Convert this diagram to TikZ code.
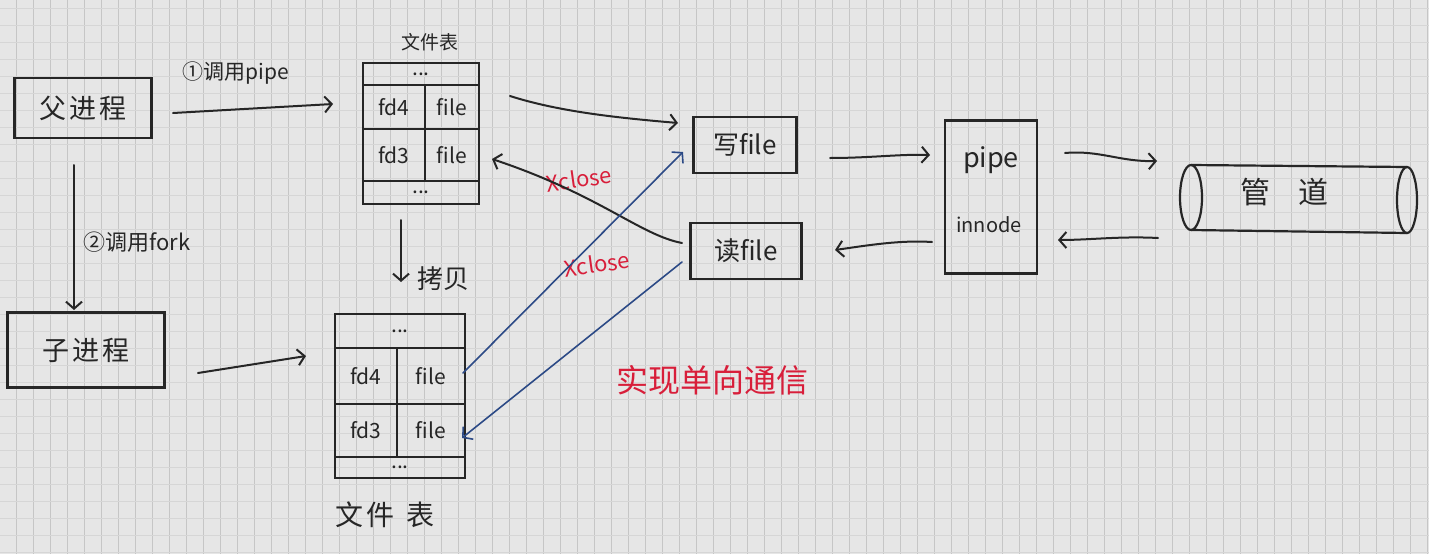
\documentclass[tikz,border=0pt]{standalone}
\usepackage{fontspec}
\newfontfamily\cjk{Noto Sans CJK SC}
\usetikzlibrary{arrows.meta}
\definecolor{bg}{HTML}{E6E6E6}
\definecolor{gridv}{HTML}{C6C6C6}
\definecolor{gridh}{HTML}{D6D6D6}
\definecolor{ink}{HTML}{262626}
\definecolor{blueink}{HTML}{2C4A86}
\definecolor{redink}{HTML}{D81E3A}
\begin{document}
\begin{tikzpicture}[x=1pt,y=-1pt,
  font=\cjk, text=ink,
  procbox/.style={draw=ink, line width=2.2pt, inner sep=0pt},
  cell/.style={draw=ink, line width=2pt, inner sep=0pt, anchor=north west, font=\cjk\fontsize{21}{21}\selectfont},
  arr/.style={draw=ink, line width=2pt, line cap=round, -{Straight Barb[length=7pt,width=16pt,line width=2pt]}},
  barr/.style={draw=blueink, line width=1.6pt, line cap=round, -{Straight Barb[length=7pt,width=16pt,line width=1.6pt]}},
  lbl/.style={font=\cjk\fontsize{21}{21}\selectfont, inner sep=0pt},
  redlbl/.style={text=redink, font=\cjk\fontsize{22}{22}\selectfont, inner sep=0pt}
]
% background and grid
\fill[bg] (0,0) rectangle (1429,554);
\useasboundingbox (0,0) rectangle (1429,554);
\foreach \i in {0,...,84} \draw[gridv, line width=1pt] ({16+17*\i},0) -- ({16+17*\i},554);
\foreach \j in {0,...,32} \draw[gridh, line width=1.2pt] (0,{8.7+17*\j}) -- (1429,{8.7+17*\j});

% processes
\node[procbox, minimum width=137pt, minimum height=60pt, font=\cjk\fontsize{27}{27}\selectfont] (parent) at (83,108) {父\hspace{3pt}进\hspace{3pt}程};
\node[procbox, minimum width=157pt, minimum height=75pt, font=\cjk\fontsize{27}{27}\selectfont] (child) at (86,350) {子\hspace{3pt}进\hspace{3pt}程};

% top file table
\node[cell, minimum width=116pt, minimum height=22pt] (t1a) at (362,62) {...};
\node[cell, minimum width=62pt, minimum height=44pt] (t1fd4) at (362,84) {fd4};
\node[cell, minimum width=54pt, minimum height=44pt] (t1f4) at (424,84) {file};
\node[cell, minimum width=62pt, minimum height=52pt] (t1fd3) at (362,128) {fd3};
\node[cell, minimum width=54pt, minimum height=52pt] (t1f3) at (424,128) {file};
\node[cell, minimum width=116pt, minimum height=23pt] (t1b) at (362,180) {...};
\node[lbl, font=\cjk\fontsize{19}{19}\selectfont] (t1title) at (430,42) {文件表};

% bottom file table
\node[cell, minimum width=130pt, minimum height=34pt] (t2a) at (334,313) {...};
\node[cell, minimum width=62pt, minimum height=56pt] (t2fd4) at (334,347) {fd4};
\node[cell, minimum width=68pt, minimum height=56pt] (t2f4) at (396,347) {file};
\node[cell, minimum width=62pt, minimum height=53pt] (t2fd3) at (334,403) {fd3};
\node[cell, minimum width=68pt, minimum height=53pt] (t2f3) at (396,403) {file};
\node[cell, minimum width=130pt, minimum height=21pt] (t2b) at (334,456) {...};
\node[lbl, font=\cjk\fontsize{28}{28}\selectfont] (t2title) at (385,515) {文\hspace{3pt}件\hspace{12pt}表};

% file objects
\node[procbox, minimum width=103pt, minimum height=56pt, font=\cjk\fontsize{26}{26}\selectfont] (wfile) at (745,145) {写file};
\node[procbox, minimum width=111pt, minimum height=56pt, font=\cjk\fontsize{26}{26}\selectfont] (rfile) at (746,251) {读file};

% pipe inode
\node[procbox, minimum width=92pt, minimum height=153pt] (inode) at (991,197) {};
\node[lbl, font=\cjk\fontsize{27}{27}\selectfont] (pipetxt) at (991,160) {pipe};
\node[lbl, font=\cjk\fontsize{20}{20}\selectfont] (inodetxt) at (989,225) {innode};

% cylinder
\draw[ink, line width=2.2pt] (1191,165) -- (1407,167);
\draw[ink, line width=2.2pt] (1191,230) -- (1407,233);
\draw[ink, line width=2.2pt] (1191,197.5) ellipse [x radius=11pt, y radius=32.5pt];
\draw[ink, line width=2.2pt] (1407,200) ellipse [x radius=10pt, y radius=33pt];
\node[lbl, font=\cjk\fontsize{30}{30}\selectfont] (cyl) at (1284,192) {管\hspace{28pt}道};

% labels
\node[lbl] (lpipe) at (236,73) {①调用pipe};
\node[lbl, font=\cjk\fontsize{22}{22}\selectfont] (lfork) at (137,242) {②调用fork};
\node[lbl, font=\cjk\fontsize{26}{26}\selectfont] (lcopy) at (443,279) {拷贝};
\node[redlbl, rotate=8] (close1) at (579,179) {Xclose};
\node[redlbl, rotate=8] (close2) at (597,264) {Xclose};
\node[redlbl, font=\cjk\fontsize{32}{32}\selectfont] (oneway) at (712,380) {实现单向通信};

% connector endpoints
\coordinate (p1s) at (173,113); \coordinate (p1e) at (333,104);
\coordinate (p2s) at (74,165);  \coordinate (p2e) at (74,310);
\coordinate (c1s) at (198,373); \coordinate (c1e) at (306,356);
\coordinate (cps) at (401,220); \coordinate (cpe) at (401,282);
\coordinate (tws) at (510,96);  \coordinate (twe) at (678,123);
\coordinate (rts) at (682,243); \coordinate (rte) at (492,159);
\coordinate (wps) at (830,158); \coordinate (wpe) at (930,155);
\coordinate (prs) at (932,242); \coordinate (pre) at (835,250);
\coordinate (pcs) at (1065,153); \coordinate (pce) at (1157,161);
\coordinate (cis) at (1158,238); \coordinate (cie) at (1058,240);
\coordinate (bws) at (463,373); \coordinate (bwe) at (683,152);
\coordinate (brs) at (682,262); \coordinate (bre) at (462,438);

% black connectors
\draw[arr] (p1s) -- (p1e);
\draw[arr] (p2s) -- (p2e);
\draw[arr] (c1s) -- (c1e);
\draw[arr] (cps) -- (cpe);
\draw[arr] (tws) .. controls (560,112) and (620,118) .. (twe);
\draw[arr] (rts) .. controls (640,235) and (600,195) .. (rte);
\draw[arr] (wps) .. controls (870,158) and (900,154) .. (wpe);
\draw[arr] (prs) .. controls (900,240) and (870,245) .. (pre);
\draw[arr] (pcs) .. controls (1100,150) and (1120,162) .. (pce);
\draw[arr] (cis) .. controls (1120,236) and (1090,240) .. (cie);

% blue connectors
\draw[barr] (bws) -- (bwe);
\draw[barr] (brs) -- (bre);
\end{tikzpicture}
\end{document}
